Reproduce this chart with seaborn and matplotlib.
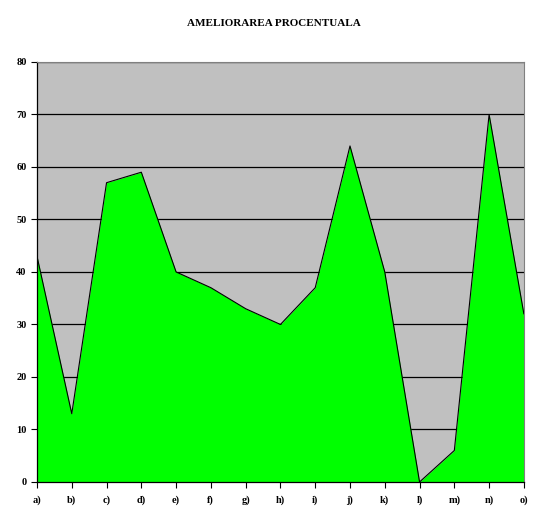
import matplotlib
matplotlib.use("Agg")
import matplotlib.pyplot as plt
import pandas as pd
import seaborn as sns

sns.set_theme(style="white")
plt.rcParams["font.family"] = ["Liberation Serif", "DejaVu Serif"]
plt.rcParams["text.color"] = "black"

LABELS = ["a)", "b)", "c)", "d)", "e)", "f)", "g)", "h)", "i)", "j)",
          "k)", "l)", "m)", "n)", "o)"]
VALUES = [43, 13, 57, 59, 40, 37, 33, 30, 37, 64, 40, 0, 6, 70, 32]
Y_TICKS = [0, 10, 20, 30, 40, 50, 60, 70, 80]

df = pd.DataFrame({"pos": range(len(LABELS)), "label": LABELS, "value": VALUES})

fig = plt.figure(figsize=(5.48, 5.21), dpi=100)
ax = fig.add_axes([0.0675, 0.0749, 0.8885, 0.8062])
ax.set_facecolor("#C0C0C0")
# gridlines sit under the green area, as in the original
ax.set_axisbelow(True)
ax.yaxis.grid(True, color="black", linewidth=0.9)

ax.fill_between(df["pos"], df["value"], 0, color="#00FF00", linewidth=0, zorder=2)
sns.lineplot(data=df, x="pos", y="value", color="black", linewidth=0.8, ax=ax, zorder=3)

ax.set_xlim(0, len(LABELS) - 1)
ax.set_ylim(0, 80)
ax.set_xticks(df["pos"])
ax.set_xticklabels(LABELS)
ax.set_yticks(Y_TICKS)
ax.set_xlabel("")
ax.set_ylabel("")
ax.tick_params(axis="both", which="both", direction="out", length=4, width=0.8,
               labelsize=7.5, colors="black", bottom=True, left=True)
ax.tick_params(axis="x", pad=6)
for lab in ax.get_xticklabels() + ax.get_yticklabels():
    lab.set_fontweight("bold")

for side in ["left", "bottom"]:
    ax.spines[side].set_color("black")
    ax.spines[side].set_linewidth(0.9)
for side in ["top", "right"]:
    ax.spines[side].set_color("#808080")
    ax.spines[side].set_linewidth(0.8)

fig.text(0.5, 0.955, "AMELIORAREA PROCENTUALA", ha="center", va="center",
         fontsize=8, fontweight="bold", color="black")

fig.savefig("out.png", dpi=100)
plt.close(fig)
